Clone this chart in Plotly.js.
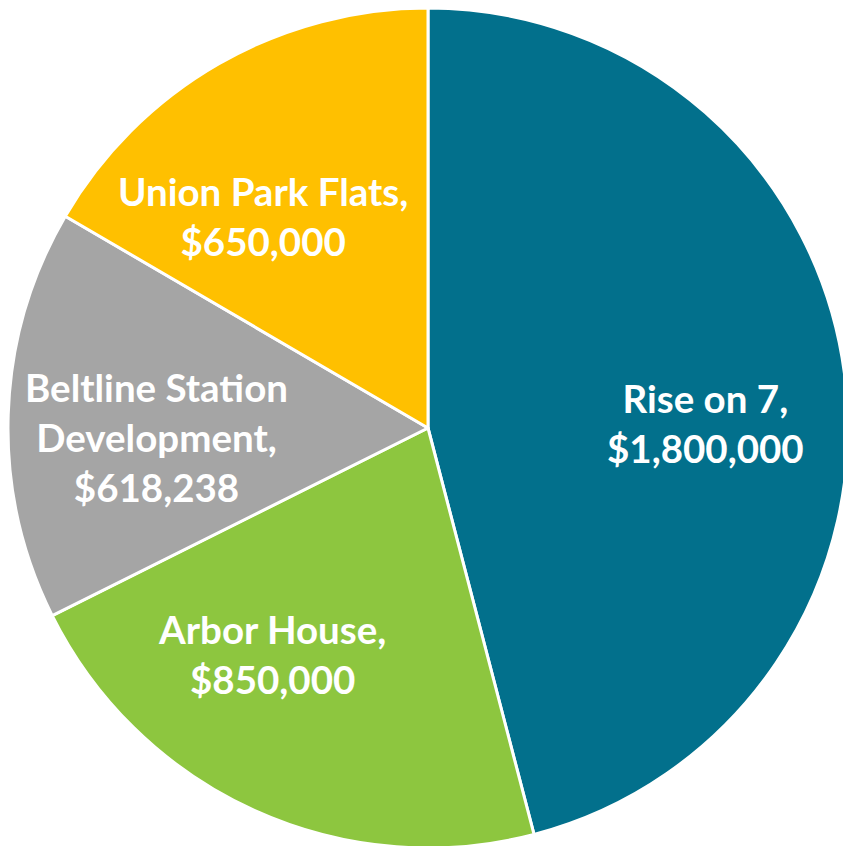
<!DOCTYPE html>
<html>
<head>
<meta charset="utf-8">
<script src="https://cdn.plot.ly/plotly-3.0.1.min.js"></script>
<style>
  html, body { margin: 0; padding: 0; overflow: hidden; background: #ffffff; }
  #chart { width: 856px; height: 856px; }
</style>
</head>
<body>
<div id="chart"></div>
<script>
// Data
const projects = ["Rise on 7", "Arbor House", "Beltline Station<br>Development", "Union Park Flats"];
const amounts = [1800000, 850000, 618238, 650000];
const sliceColors = ["#02708C", "#8DC63F", "#A5A5A5", "#FFC000"];

// Label placement (paper coordinates)
const labelX = [0.824, 0.318, 0.183, 0.307];
const labelY = [0.506, 0.236, 0.489, 0.748];

function fmtMoney(v) {
  return "$" + v.toLocaleString("en-US");
}

const trace = {
  type: "pie",
  labels: projects,
  values: amounts,
  sort: false,
  direction: "clockwise",
  rotation: 0,
  textinfo: "none",
  hoverinfo: "label+value",
  marker: { colors: sliceColors, line: { color: "#ffffff", width: 3 } },
  domain: { x: [8 / 856, 848 / 856], y: [8 / 856, 848 / 856] },
  showlegend: false
};

const annotations = projects.map((p, i) => ({
  xref: "paper", yref: "paper",
  x: labelX[i], y: labelY[i],
  xanchor: "center", yanchor: "middle",
  showarrow: false,
  align: "center",
  text: p + ",<br>" + fmtMoney(amounts[i]),
  font: { family: "Lato, 'Open Sans', sans-serif", size: 38.5, color: "#ffffff", weight: "bold" }
}));

const layout = {
  width: 856, height: 856,
  margin: { l: 0, r: 0, t: 0, b: 0 },
  paper_bgcolor: "#ffffff",
  plot_bgcolor: "#ffffff",
  showlegend: false,
  annotations: annotations
};

Plotly.newPlot("chart", [trace], layout, { displayModeBar: false, staticPlot: true });
</script>
</body>
</html>
